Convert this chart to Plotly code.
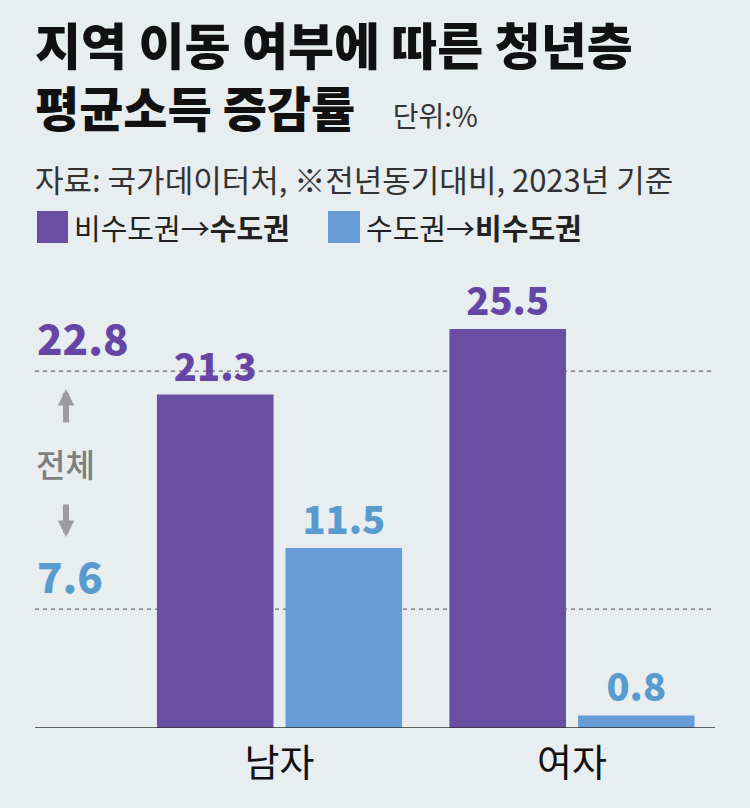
import plotly.graph_objects as go

# data
categories = ['남자', '여자']
series_names = ['비수도권→수도권', '수도권→비수도권']
to_capital = [21.3, 25.5]
to_noncapital = [11.5, 0.8]
total_to_capital = 22.8
total_to_noncapital = 7.6

purple = '#6a4ea4'
blue = '#679cd6'
purple_txt = '#6546a6'
blue_txt = '#579bcf'
bg = '#e8edf0'
font = 'Noto Sans CJK KR'

W, H = 750, 808
ml, mr, mt, mb = 35, 35, 250, 80


def py(p):
    # pixel row -> paper y
    return (H - mb - p) / (H - mt - mb)


def px(p):
    # pixel column -> paper x
    return (p - ml) / (W - ml - mr)


fig = go.Figure()
fig.add_trace(go.Bar(
    x=categories, y=to_capital, name=series_names[0],
    marker_color=purple, marker_line_width=0,
    text=[f'{v}' for v in to_capital], textposition='outside',
    textfont=dict(family=font, size=38, color=purple_txt, weight=800),
    cliponaxis=False,
))
fig.add_trace(go.Bar(
    x=categories, y=to_noncapital, name=series_names[1],
    marker_color=blue, marker_line_width=0,
    text=[f'{v}' for v in to_noncapital], textposition='outside',
    textfont=dict(family=font, size=38, color=blue_txt, weight=800),
    cliponaxis=False,
))

# reference lines (전체)
for v in [total_to_capital, total_to_noncapital]:
    fig.add_shape(type='line', xref='paper', x0=0, x1=1, yref='y', y0=v, y1=v,
                  line=dict(color='#6e6e6e', width=1.3, dash='4px,4px'), layer='below')
fig.add_shape(type='line', xref='paper', x0=0, x1=1, yref='y', y0=0, y1=0,
              line=dict(color='#333333', width=1.5))

fig.add_annotation(x=0, xref='paper', xanchor='left', y=total_to_capital, yref='y',
                   yanchor='bottom', yshift=2, text=f'{total_to_capital}', showarrow=False,
                   font=dict(family=font, size=42, color=purple_txt, weight=800))
fig.add_annotation(x=0, xref='paper', xanchor='left', y=total_to_noncapital, yref='y',
                   yanchor='bottom', yshift=2, text=f'{total_to_noncapital}', showarrow=False,
                   font=dict(family=font, size=42, color=blue_txt, weight=800))
fig.add_annotation(x=px(65), xref='paper', xanchor='center', y=py(463), yref='paper',
                   yanchor='middle', text='전체', showarrow=False,
                   font=dict(family=font, size=32, color='#7f7f7f', weight=500))
# up / down arrows
for head, tail in [(389, 424), (537, 503)]:
    fig.add_annotation(x=px(66), xref='paper', y=py(head), yref='paper', text='',
                       showarrow=True, ax=0, ay=tail - head, arrowhead=2, arrowsize=0.55,
                       arrowwidth=6, arrowcolor='#9c9c9c', standoff=0, startstandoff=0)

# title block (one text so the two lines share a box)
title = ('<span style="font-size:50px">지역 이동 여부에 따른 청년층</span><br>'
         '평균소득 증감률<span style="font-size:28px;font-weight:400;fill:#333333">'
         '      단위:%</span>')
fig.add_annotation(x=px(33), xref='paper', xanchor='left', y=py(5), yref='paper', yanchor='top',
                   text=title, showarrow=False, align='left',
                   font=dict(family=font, size=48, color='#111111', weight=800))
fig.add_annotation(x=px(33), xref='paper', xanchor='left', y=py(178), yref='paper', yanchor='middle',
                   text='자료: 국가데이터처, ※전년동기대비, 2023년 기준', showarrow=False,
                   font=dict(family=font, size=31, color='#333333'))

# legend
for (x0, x1), col, name in [((37, 68), purple, series_names[0]), ((328, 360), blue, series_names[1])]:
    fig.add_shape(type='rect', xref='paper', yref='paper', x0=px(x0), x1=px(x1),
                  y0=py(243), y1=py(211), fillcolor=col, line_width=0)
    a, b = name.split('→')
    fig.add_annotation(x=px(x1 + 4), xref='paper', xanchor='left', y=py(227), yref='paper',
                       yanchor='middle', text=f'{a}→<b>{b}</b>', showarrow=False,
                       font=dict(family=font, size=29, color='#222222'))

fig.update_layout(
    width=W, height=H,
    margin=dict(l=ml, r=mr, t=mt, b=mb),
    paper_bgcolor=bg, plot_bgcolor=bg,
    barmode='group', bargap=0.121, bargroupgap=0.093,
    showlegend=False,
    xaxis=dict(range=[-0.836, 1.489], showgrid=False, zeroline=False, showline=False,
               ticks='', ticklabelstandoff=9,
               tickfont=dict(family=font, size=38, color='#111111')),
    yaxis=dict(range=[0, 30.54], visible=False),
)
fig.update_traces(hovertemplate='%{x} %{y}%<extra></extra>')

config = {'displayModeBar': False}
fig.write_html('out.html', config=config, post_script="document.body.style.margin='0';")
